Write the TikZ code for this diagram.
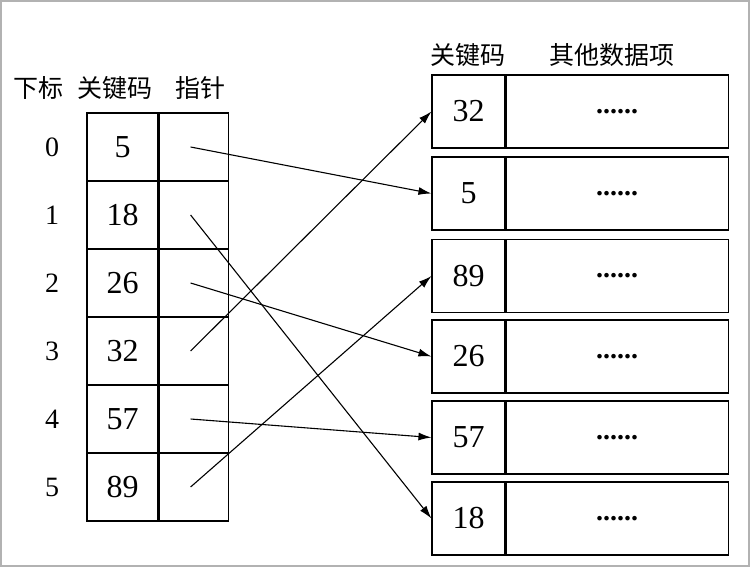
\documentclass[tikz,border=0pt]{standalone}
\usepackage{fontspec}
\setmainfont{Liberation Serif}
\newfontfamily\cjk{Noto Sans CJK SC}
\usetikzlibrary{arrows.meta,positioning}

\tikzset{
  keycell/.style={draw,minimum width=71pt,minimum height=68pt,inner sep=0pt,font=\fontsize{32}{32}\selectfont},
  ptrcell/.style={draw,minimum width=69pt,minimum height=68pt,inner sep=0pt},
  rkey/.style={draw,minimum width=73pt,minimum height=73pt,inner sep=0pt,font=\fontsize{32}{32}\selectfont},
  rdata/.style={draw,minimum width=222pt,minimum height=73pt,inner sep=0pt,font=\bfseries\fontsize{28}{28}\selectfont},
  head/.style={font=\cjk\fontsize{25}{25}\selectfont},
  idx/.style={font=\fontsize{28}{28}\selectfont},
  link/.style={-{Latex[length=13pt,width=8pt]},line width=1.1pt}
}

\begin{document}
\begin{tikzpicture}[x=1pt,y=-1pt,line width=1.1pt]
  \useasboundingbox (0,0) rectangle (750,567);
  \draw[gray!60,line width=1.5pt] (1,1) rectangle (749,566);

  % header rows
  \node[head] (hidx) at (38,88) {下标};
  \node[head] (hkey) at (115,88) {关键码};
  \node[head] (hptr) at (200,88) {指针};
  \node[head] (rhkey) at (468,55) {关键码};
  \node[head] (rhdat) at (612,55) {其他数据项};

  % left index table
  \foreach \k/\v in {0/5,1/18,2/26,3/32,4/57,5/89} {
    \node[keycell] (k\k) at (122.5,147+68*\k) {\v};
    \node[ptrcell,right=0pt of k\k] (p\k) {};
    \node[idx] (i\k) at (52,147+68*\k) {\k};
    \coordinate (s\k) at ([xshift=-3pt]p\k.center);
  }

  % right data table
  \foreach \r/\v/\y in {a/32/111.5,b/5/193.5,c/89/276,d/26/356.5,e/57/437.5,f/18/518.5} {
    \node[rkey,minimum height=73pt] (r\r) at (468.5,\y) {\v};
    \node[rdata,right=0pt of r\r] (d\r) {......};
  }

  % pointers
  \draw[link] (s0) -- (rb.west);
  \draw[link] (s1) -- (rf.west);
  \draw[link] (s2) -- (rd.west);
  \draw[link] (s3) -- (ra.west);
  \draw[link] (s4) -- (re.west);
  \draw[link] (s5) -- (rc.west);
\end{tikzpicture}
\end{document}
